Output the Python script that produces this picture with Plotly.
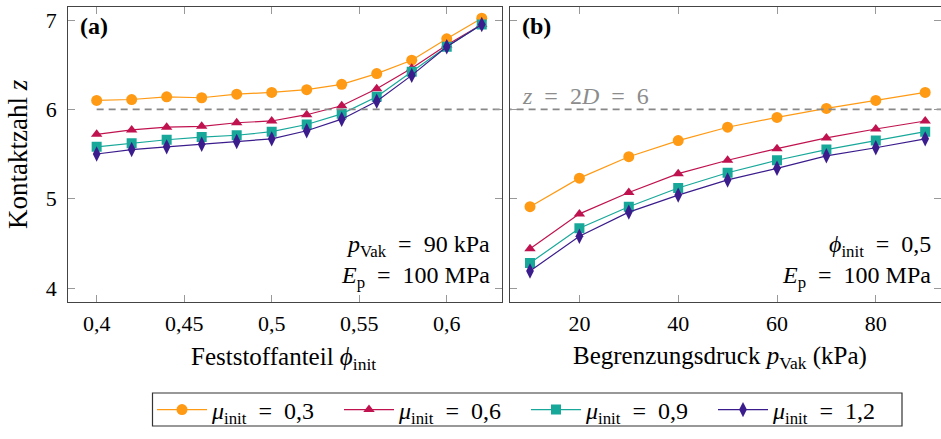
import plotly.graph_objects as go

# ---- data -------------------------------------------------------------
phi_init = [0.40, 0.42, 0.44, 0.46, 0.48, 0.50, 0.52, 0.54, 0.56, 0.58, 0.60, 0.62]
p_vak = [10, 20, 30, 40, 50, 60, 70, 80, 90]

mu_labels = ["0,3", "0,6", "0,9", "1,2"]

# panel (a): contact number vs. initial solid fraction (p_Vak = 90 kPa)
z_phi = [
    [6.10, 6.11, 6.14, 6.13, 6.17, 6.19, 6.22, 6.28, 6.40, 6.55, 6.79, 7.02],
    [5.72, 5.77, 5.80, 5.81, 5.85, 5.87, 5.94, 6.04, 6.23, 6.46, 6.72, 6.95],
    [5.58, 5.62, 5.66, 5.69, 5.71, 5.75, 5.83, 5.95, 6.14, 6.42, 6.70, 6.95],
    [5.50, 5.55, 5.58, 5.61, 5.64, 5.67, 5.76, 5.89, 6.09, 6.38, 6.70, 6.95],
]

# panel (b): contact number vs. confining pressure (phi_init = 0.5)
z_p = [
    [4.91, 5.23, 5.47, 5.65, 5.80, 5.91, 6.01, 6.10, 6.19],
    [4.44, 4.83, 5.07, 5.28, 5.43, 5.56, 5.68, 5.78, 5.87],
    [4.28, 4.67, 4.91, 5.12, 5.29, 5.43, 5.55, 5.65, 5.75],
    [4.19, 4.58, 4.85, 5.04, 5.21, 5.34, 5.48, 5.57, 5.67],
]

z_ref = 6  # z = 2D = 6 for a 3D packing

xa_ticks = [0.40, 0.45, 0.50, 0.55, 0.60]
xa_ticktext = ["0,4", "0,45", "0,5", "0,55", "0,6"]
xb_ticks = [20, 40, 60, 80]
y_ticks = [4, 5, 6, 7]

# ---- styling ----------------------------------------------------------
colors = ["#ff9a14", "#c0124f", "#17a89a", "#3b1c8c"]
symbols = ["circle", "triangle-up", "square", "diamond-tall"]
sizes = [11, 10, 10, 11]
FONT = "Liberation Serif, DejaVu Serif, serif"
FS = 22
W, H = 941, 439


def px(x):
    return x / W


def py(y):
    return 1 - y / H


fig = go.Figure()

for i in range(4):
    name = f"<i>μ</i><sub>init</sub>  =  {mu_labels[i]}"
    fig.add_trace(go.Scatter(
        x=phi_init, y=z_phi[i], mode="lines+markers", name=name,
        line=dict(color=colors[i], width=1.2),
        marker=dict(symbol=symbols[i], size=sizes[i], color=colors[i]),
        xaxis="x", yaxis="y", legendgroup=str(i), showlegend=True,
    ))
    fig.add_trace(go.Scatter(
        x=p_vak, y=z_p[i], mode="lines+markers", name=name,
        line=dict(color=colors[i], width=1.2),
        marker=dict(symbol=symbols[i], size=sizes[i], color=colors[i]),
        xaxis="x2", yaxis="y2", legendgroup=str(i), showlegend=False,
    ))

# reference lines z = 6
fig.add_trace(go.Scatter(x=[0.40, 0.65], y=[z_ref, z_ref], mode="lines",
                         line=dict(color="#888888", width=1.8, dash="7px,5px"),
                         xaxis="x", yaxis="y", showlegend=False, hoverinfo="skip"))
fig.add_trace(go.Scatter(x=[0, 100], y=[z_ref, z_ref], mode="lines",
                         line=dict(color="#888888", width=1.8, dash="7px,5px"),
                         xaxis="x2", yaxis="y2", showlegend=False, hoverinfo="skip"))

axis_common = dict(
    showline=True, linecolor="#444444", linewidth=1.2, mirror="ticks",
    ticks="inside", ticklen=7, tickcolor="#999999", tickwidth=1.2,
    showgrid=False, zeroline=False,
    tickfont=dict(family=FONT, size=FS, color="black"),
)
ydom = [py(301.7), py(6.7)]

fig.update_layout(
    width=W, height=H,
    margin=dict(l=0, r=0, t=0, b=0, autoexpand=False),
    paper_bgcolor="white", plot_bgcolor="white",
    font=dict(family=FONT, size=FS, color="black"),
    xaxis=dict(domain=[px(68.3), px(501.7)], range=[0.3838, 0.6314],
               tickvals=xa_ticks, ticktext=xa_ticktext, anchor="y",
               ticklabelstandoff=2, **axis_common),
    yaxis=dict(domain=ydom, range=[3.847, 7.149], tickvals=y_ticks,
               anchor="x", ticklabelstandoff=6, **axis_common),
    xaxis2=dict(domain=[px(510), 1.0], range=[5.95, 93.2],
                tickvals=xb_ticks, anchor="y2", ticklabelstandoff=2, **axis_common),
    yaxis2=dict(domain=ydom, range=[3.847, 7.149], tickvals=y_ticks,
                showticklabels=False, anchor="x2", **axis_common),
    legend=dict(
        orientation="h", x=px(152), y=py(410), xanchor="left", yanchor="middle",
        borderwidth=0, bgcolor="rgba(0,0,0,0)",
        font=dict(family=FONT, size=24),
        entrywidth=122, entrywidthmode="pixels",
        itemwidth=50, tracegroupgap=0,
    ),
    # frame around the legend entries
    shapes=[dict(type="rect", xref="paper", yref="paper",
                 x0=px(152.5), x1=px(902), y0=py(426), y1=py(393),
                 line=dict(color="#333333", width=1.2), layer="below")],
)

ann = []


def add_text(x, y, text, xanchor="center", size=FS, color="black", angle=0):
    ann.append(dict(x=px(x), y=py(y), xref="paper", yref="paper", text=text,
                    showarrow=False, xanchor=xanchor, yanchor="middle",
                    textangle=angle, font=dict(family=FONT, size=size, color=color)))


add_text(78, 26, "<b>(a)</b>", xanchor="left", size=24)
add_text(520, 26, "<b>(b)</b>", xanchor="left", size=24)
add_text(492, 246, "<i>p</i><sub>Vak</sub>  =  90 kPa", xanchor="right", size=24)
add_text(492, 277, "<i>E</i><sub>p</sub>  =  100 MPa", xanchor="right", size=24)
add_text(933, 246, "<i>ϕ</i><sub>init</sub>  =  0,5", xanchor="right", size=24)
add_text(933, 277, "<i>E</i><sub>p</sub>  =  100 MPa", xanchor="right", size=24)
add_text(520, 96, "<i>z</i>  =  2<i>D</i>  =  6", xanchor="left", size=24, color="#8c8c8c")
add_text(283, 358, "Feststoffanteil <i>ϕ</i><sub>init</sub>", size=25)
add_text(720, 357, "Begrenzungsdruck <i>p</i><sub>Vak</sub> (kPa)", size=25)
add_text(18, 154, "Kontaktzahl <i>z</i>", angle=-90, size=27)

fig.update_layout(annotations=ann)
fig.write_html("out.html")
